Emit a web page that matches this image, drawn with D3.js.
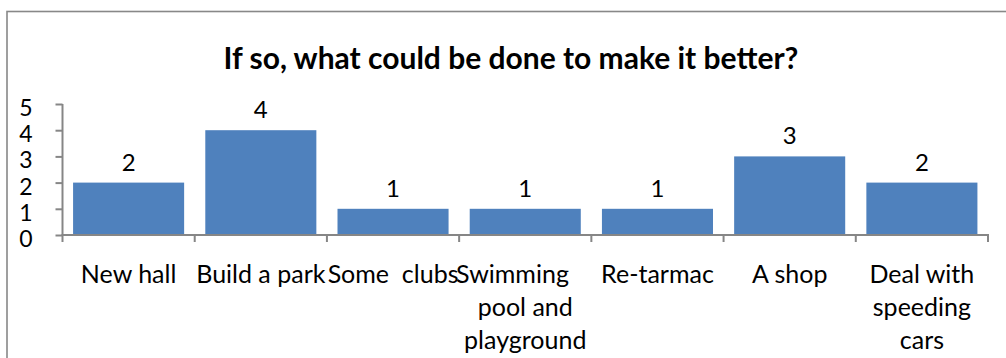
<!DOCTYPE html>
<html>
<head>
<meta charset="utf-8">
<script src="https://cdn.jsdelivr.net/npm/d3@7"></script>
<style>
  html, body { margin: 0; padding: 0; background: #fff; }
  svg { display: block; }
  text { font-family: Lato, "Open Sans", sans-serif; fill: #000; }
</style>
</head>
<body>
<svg id="chart" width="1006" height="358"></svg>
<script>
// ---- data ----
const title = "If so, what could be done to make it better?";
const categories = ["New hall", "Build a park", "Some  clubs", "Swimming pool and playground", "Re-tarmac", "A shop", "Deal with speeding cars"];
const categoryLines = [
  ["New hall"],
  ["Build a park"],
  ["Some \u00a0clubs"],
  ["Swimming\u00a0\u00a0\u00a0\u00a0", "pool and", "playground"],
  ["Re-tarmac"],
  ["A shop"],
  ["Deal with", "speeding", "cars"]
];
const values = [2, 4, 1, 1, 1, 3, 2];
const yTicks = [0, 1, 2, 3, 4, 5];

// ---- drawing ----
const svg = d3.select("#chart");
const mLeft = 62.5, mRight = 988, mTop = 104, mBottom = 235;

// outer chart border
svg.append("rect")
  .attr("x", 7).attr("y", 11.5)
  .attr("width", 1020).attr("height", 400)
  .attr("fill", "none").attr("stroke", "#888").attr("stroke-width", 1.6);

svg.append("text")
  .attr("x", 511).attr("y", 69)
  .attr("text-anchor", "middle")
  .style("font-weight", "bold").style("font-size", "30px")
  .text(title);

const x = d3.scaleBand().domain(categories).range([mLeft, mRight])
  .paddingInner(0.16).paddingOuter(0.08);
const y = d3.scaleLinear().domain([0, 5]).range([mBottom, mTop]);

// bars
svg.append("g").selectAll("rect").data(values).join("rect")
  .attr("x", (d, i) => x(categories[i]))
  .attr("y", d => y(d))
  .attr("width", x.bandwidth())
  .attr("height", d => y(0) - y(d))
  .attr("fill", "#4F81BD");

// value labels
svg.append("g").selectAll("text").data(values).join("text")
  .attr("x", (d, i) => x(categories[i]) + x.bandwidth() / 2)
  .attr("y", d => y(d) - 12)
  .attr("text-anchor", "middle")
  .style("font-size", "24px")
  .text(d => d);

// y axis
const yAxis = svg.append("g").attr("transform", `translate(${mLeft},0)`)
  .call(d3.axisLeft(y).tickValues(yTicks).tickFormat(d3.format("d")).tickSize(7).tickSizeOuter(0).tickPadding(23));
yAxis.select(".domain").attr("stroke", "#868686").attr("stroke-width", 2).attr("d", `M0,${mTop}V${mBottom}`);
yAxis.selectAll(".tick line").attr("stroke", "#868686").attr("stroke-width", 2);
yAxis.selectAll(".tick text")
  .style("font-family", "Lato, sans-serif").style("font-size", "23px").attr("fill", "#000")
  .attr("dy", "0.5em");

// x axis with ticks at category boundaries
const boundaries = d3.range(categories.length + 1).map(i => mLeft + i * (mRight - mLeft) / categories.length);
const xg = svg.append("g");
xg.append("line").attr("x1", mLeft - 1).attr("x2", mRight + 1).attr("y1", mBottom).attr("y2", mBottom)
  .attr("stroke", "#868686").attr("stroke-width", 2);
xg.selectAll("line.tk").data(boundaries).join("line").attr("class", "tk")
  .attr("x1", d => d).attr("x2", d => d).attr("y1", mBottom).attr("y2", mBottom + 7)
  .attr("stroke", "#868686").attr("stroke-width", 2);

// category labels
const lab = svg.append("g").selectAll("text").data(categoryLines).join("text")
  .attr("text-anchor", "middle")
  .style("font-size", "25px")
  .attr("transform", (d, i) => `translate(${x(categories[i]) + x.bandwidth() / 2},283)`);
lab.selectAll("tspan").data(d => d).join("tspan")
  .attr("x", 0).attr("y", (d, j) => j * 33)
  .text(d => d);
</script>
</body>
</html>
